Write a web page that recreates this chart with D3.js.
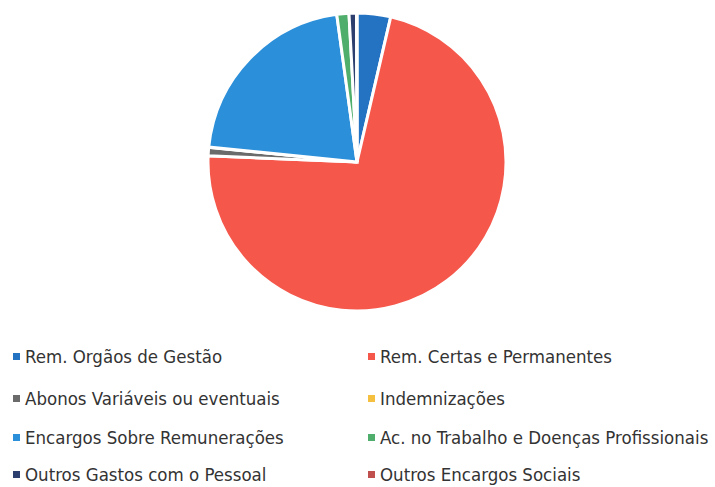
<!DOCTYPE html>
<html>
<head>
<meta charset="utf-8">
<script src="https://cdn.jsdelivr.net/npm/d3@7"></script>
<style>
  body { margin: 0; background: #fff; }
  svg text { font-family: "DejaVu Sans Condensed", "Liberation Sans Narrow", sans-serif; }
</style>
</head>
<body>
<script>
// chart data
var categories = [
    "Rem. Orgãos de Gestão",
    "Rem. Certas e Permanentes",
    "Abonos Variáveis ou eventuais",
    "Indemnizações",
    "Encargos Sobre Remunerações",
    "Ac. no Trabalho e Doenças Profissionais",
    "Outros Gastos com o Pessoal",
    "Outros Encargos Sociais"
];
var values = [3.6, 71.3, 0.9, 0.05, 21.0, 1.3, 0.8, 0.05];
var colors = ["#2473c3", "#f5574b", "#6b6b6b", "#f5c040", "#2b8fd9", "#4fae6b", "#2d3f6f", "#c0504d"];

var width = 715, height = 487;

var svg = d3.select("body")
    .append("svg")
    .attr("width", width)
    .attr("height", height);

// pie
var cx = 357, cy = 162, radius = 149;

var pie = d3.pie().sort(null).value(function (d) { return d; });
var arc = d3.arc().innerRadius(0).outerRadius(radius);

var pieGroup = svg.append("g")
    .attr("transform", "translate(" + cx + "," + cy + ")");

pieGroup.selectAll("path")
    .data(pie(values))
    .enter()
    .append("path")
    .attr("d", arc)
    .attr("fill", function (d, i) { return colors[i]; })
    .attr("stroke", "#fff")
    .attr("stroke-width", 3);

// legend, two columns
var colX = [13, 368];
var rowY = [357, 399, 438, 475];

var legend = svg.selectAll(".legend")
    .data(categories)
    .enter()
    .append("g")
    .attr("class", "legend")
    .attr("transform", function (d, i) {
        return "translate(" + colX[i % 2] + "," + rowY[Math.floor(i / 2)] + ")";
    });

legend.append("rect")
    .attr("x", 0)
    .attr("y", -4)
    .attr("width", 7)
    .attr("height", 7)
    .attr("fill", function (d, i) { return colors[i]; });

legend.append("text")
    .attr("x", 12)
    .attr("y", 0)
    .attr("dy", "0.35em")
    .attr("font-size", 18.5)
    .attr("fill", "#333")
    .text(function (d) { return d; });
</script>
</body>
</html>
